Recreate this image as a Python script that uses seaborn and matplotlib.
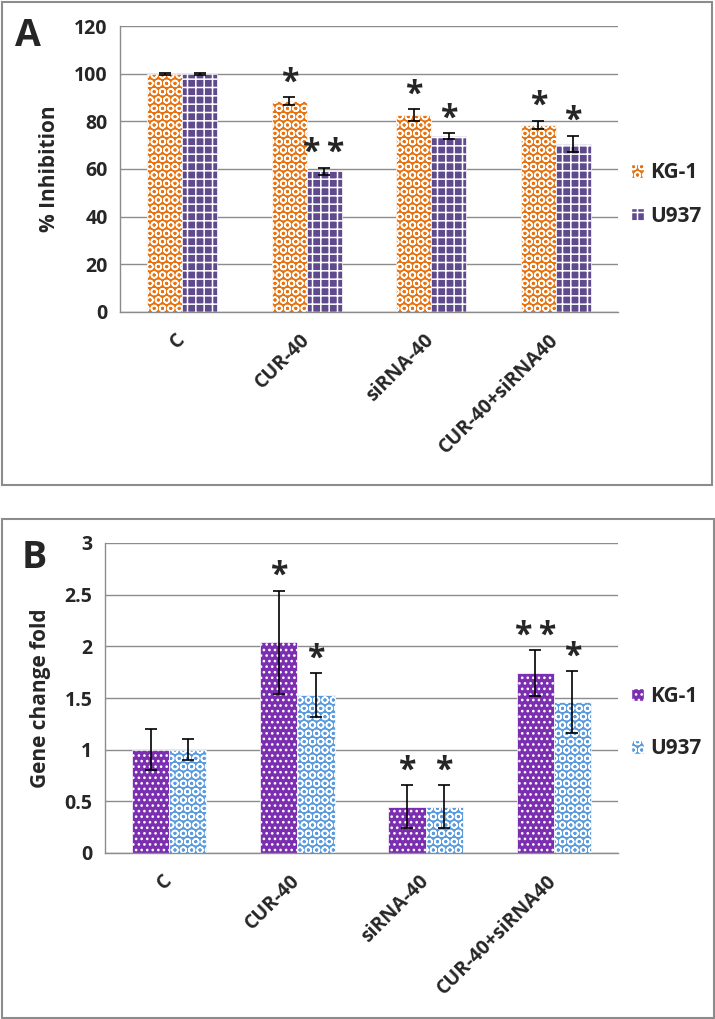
import numpy as np
import pandas as pd
import matplotlib
matplotlib.use("Agg")
import matplotlib.pyplot as plt
import seaborn as sns
from matplotlib.patches import Patch, Rectangle
from matplotlib.ticker import FixedLocator, FuncFormatter, MultipleLocator

# categories and cell lines
groups = ["C", "CUR-40", "siRNA-40", "CUR-40+siRNA40"]
lines = ["KG-1", "U937"]

# panel A: % inhibition
inhib_kg1 = [100, 88.5, 82.5, 78.5]
inhib_kg1_err = [0.4, 1.5, 2.5, 1.8]
inhib_u937 = [100, 59, 73.8, 70.5]
inhib_u937_err = [0.4, 1.6, 1.3, 3.5]
inhib_stars_kg1 = ["", "*", "*", "*"]
inhib_stars_u937 = ["", "*\u2009*", "*", "*"]

# panel B: gene change fold
fold_kg1 = [1.0, 2.04, 0.45, 1.74]
fold_kg1_err = [0.2, 0.5, 0.21, 0.22]
fold_u937 = [1.0, 1.53, 0.45, 1.46]
fold_u937_err = [0.1, 0.21, 0.21, 0.3]
fold_stars_kg1 = ["", "*", "*", "*\u2009*"]
fold_stars_u937 = ["", "*", "*", "*"]

W, H = 715, 1019
GRAY = "#8c8c8c"

sns.set_style("white")
plt.rcParams["font.family"] = ["Open Sans", "DejaVu Sans"]
plt.rcParams["font.weight"] = "bold"
plt.rcParams["axes.labelweight"] = "bold"
plt.rcParams["hatch.linewidth"] = 1.1

fig = plt.figure(figsize=(W / 100, H / 100), dpi=100)


def px_axes(left, top, right, bottom):
    return fig.add_axes([left / W, 1 - bottom / H, (right - left) / W, (bottom - top) / H])


def draw_panel(ax, kg1, kg1_err, u937, u937_err, stars_kg1, stars_u937,
               colors, hatches, width, ymax, ystep, ylabel, legend_y, legend_gap):
    df = pd.DataFrame({
        "group": groups * 2,
        "line": [lines[0]] * len(groups) + [lines[1]] * len(groups),
        "value": kg1 + u937,
    })
    sns.barplot(data=df, x="group", y="value", hue="line", order=groups,
                hue_order=lines, palette=colors, width=width, gap=0,
                errorbar=None, legend=False, saturation=1, ax=ax, zorder=2)

    # hatches, error bars and significance stars
    for cont, hatch, errs, stars in zip(ax.containers, hatches,
                                        [kg1_err, u937_err], [stars_kg1, stars_u937]):
        for bar, err, star in zip(cont, errs, stars):
            bar.set_hatch(hatch)
            bar.set_edgecolor("white")
            bar.set_linewidth(0.5)
            x = bar.get_x() + bar.get_width() / 2
            y = bar.get_height()
            ax.errorbar(x, y, yerr=err, color="black", capsize=4,
                        elinewidth=1.2, capthick=1.2, zorder=3)
            if star:
                ax.annotate(star, (x, y + err), xytext=(0, 4),
                            textcoords="offset points", ha="center",
                            va="baseline", fontsize=23, fontweight="bold")

    ax.set_ylim(0, ymax)
    ax.set_xlim(-0.5, len(groups) - 0.5)
    ax.yaxis.set_major_locator(MultipleLocator(ystep))
    ax.yaxis.set_major_formatter(FuncFormatter(lambda v, p: f"{v:g}"))
    ax.yaxis.grid(True, color=GRAY, lw=1)
    ax.set_axisbelow(True)
    for side in ["top", "right"]:
        ax.spines[side].set_visible(False)
    for side in ["left", "bottom"]:
        ax.spines[side].set_color(GRAY)
        ax.spines[side].set_linewidth(1)
    ax.tick_params(axis="y", length=5, color=GRAY, labelsize=14, pad=4)
    ax.xaxis.set_minor_locator(FixedLocator(np.arange(-0.5, len(groups), 1)))
    ax.tick_params(axis="x", which="minor", length=6, color=GRAY, direction="out")
    ax.tick_params(axis="x", which="major", length=0, pad=18, labelsize=14)
    plt.setp(ax.get_xticklabels(), rotation=45, ha="right", va="center",
             rotation_mode="anchor")
    ax.set_xlabel("")
    ax.set_ylabel(ylabel, fontsize=15, labelpad=10)

    handles = [Patch(facecolor=c, hatch=h, edgecolor="white", label=l)
               for c, h, l in zip(colors, hatches, lines)]
    ax.legend(handles=handles, loc="center left", bbox_to_anchor=(1.01, legend_y),
              frameon=False, fontsize=15, handlelength=0.6, handleheight=0.6,
              handletextpad=0.3, labelspacing=legend_gap, borderaxespad=0)


# panel A
axA = px_axes(120, 26, 618, 312)
draw_panel(axA, inhib_kg1, inhib_kg1_err, inhib_u937, inhib_u937_err,
           inhib_stars_kg1, inhib_stars_u937,
           colors=["#E8720F", "#604A8E"], hatches=["OO", "++"],
           width=0.56, ymax=120, ystep=20, ylabel="% Inhibition",
           legend_y=0.41, legend_gap=1.1)

# panel B
axB = px_axes(105, 543, 618, 853)
draw_panel(axB, fold_kg1, fold_kg1_err, fold_u937, fold_u937_err,
           fold_stars_kg1, fold_stars_u937,
           colors=["#7B2FB0", "#5A9BE0"], hatches=["...", "OO"],
           width=0.58, ymax=3, ystep=0.5, ylabel="Gene change fold",
           legend_y=0.42, legend_gap=1.5)

# panel frames and letters
for x0, y0, x1, y1 in [(2, 2, 712, 485), (2, 519, 714, 1018)]:
    fig.add_artist(Rectangle((x0 / W, 1 - y1 / H), (x1 - x0) / W, (y1 - y0) / H,
                             transform=fig.transFigure, fill=False,
                             edgecolor=GRAY, lw=1.5))
fig.text(15 / W, 1 - 36 / H, "A", fontsize=27, fontweight="bold", va="center")
fig.text(22 / W, 1 - 558 / H, "B", fontsize=27, fontweight="bold", va="center")

fig.savefig("out.png", dpi=100)
